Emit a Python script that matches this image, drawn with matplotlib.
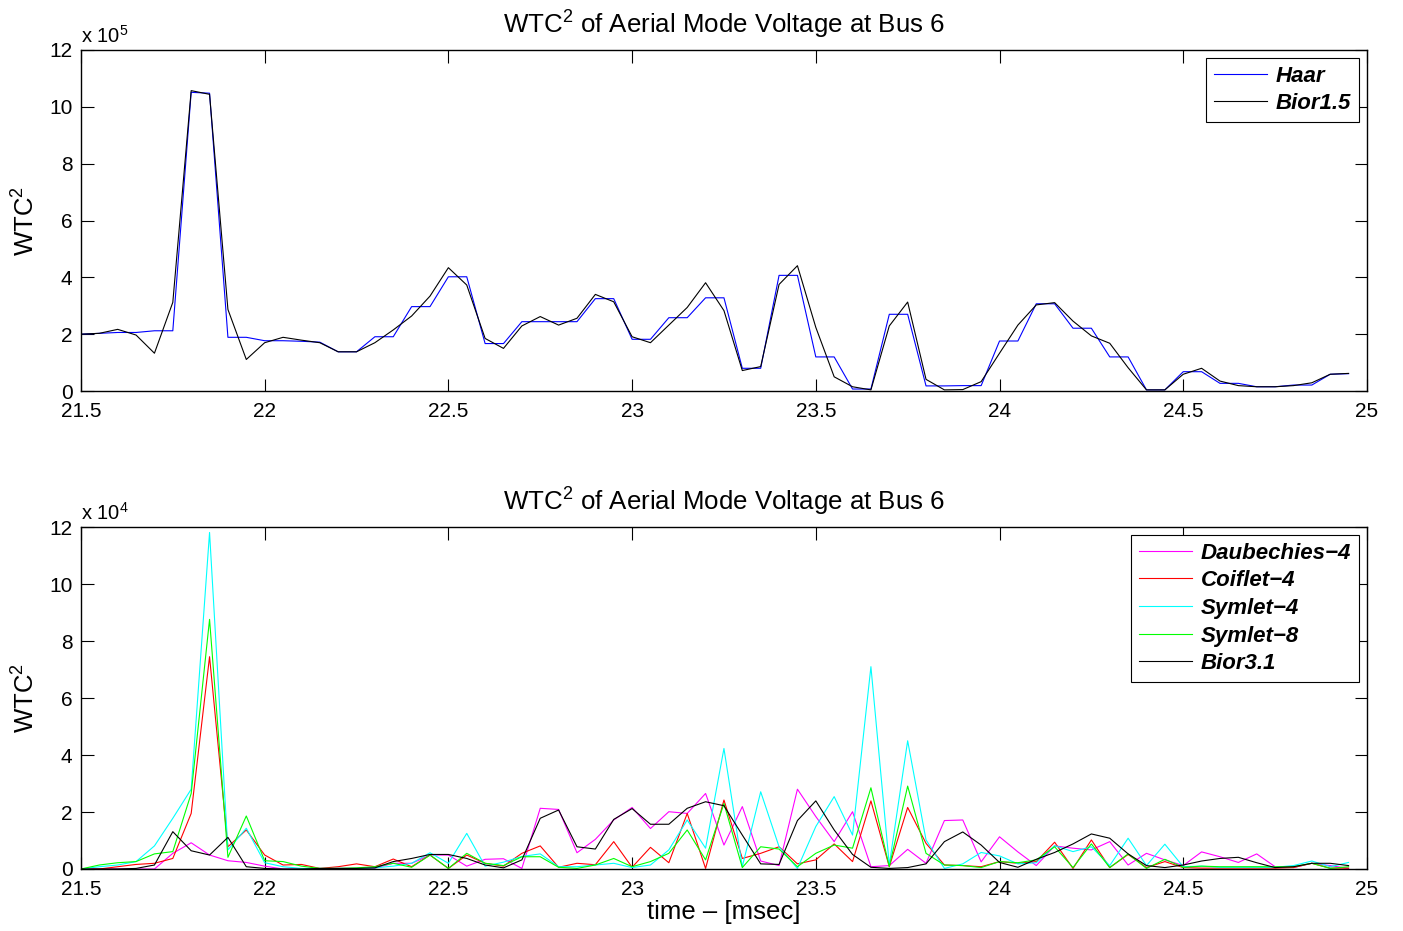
import numpy as np
import matplotlib
matplotlib.use("Agg")
import matplotlib.pyplot as plt

plt.rcParams.update({
    "font.family": ["Liberation Sans", "DejaVu Sans"],
    "mathtext.default": "regular",
    "font.size": 15,
    "axes.linewidth": 1.0,
})

# sample grid (msec)
T_START = 21.5
DT = 0.05
N = 70
t = T_START + DT * np.arange(N)

# top panel, WTC^2 in units of 1e5
haar = [2.00, 2.03, 2.06, 2.06, 2.12, 2.12, 10.51, 10.48, 1.89, 1.89,
        1.77, 1.77, 1.75, 1.72, 1.38, 1.38, 1.91, 1.91, 2.97, 2.97,
        4.02, 4.02, 1.67, 1.67, 2.44, 2.44, 2.44, 2.44, 3.25, 3.25,
        1.82, 1.82, 2.58, 2.58, 3.28, 3.28, 0.80, 0.80, 4.07, 4.07,
        1.20, 1.20, 0.07, 0.07, 2.70, 2.70, 0.18, 0.18, 0.19, 0.19,
        1.76, 1.76, 3.07, 3.07, 2.21, 2.21, 1.20, 1.20, 0.04, 0.04,
        0.68, 0.68, 0.27, 0.27, 0.15, 0.15, 0.21, 0.21, 0.59, 0.61]
bior15 = [2.00, 2.03, 2.17, 1.97, 1.33, 3.12, 10.57, 10.44, 2.87, 1.11,
          1.70, 1.89, 1.79, 1.70, 1.38, 1.38, 1.70, 2.15, 2.64, 3.34,
          4.34, 3.73, 1.85, 1.50, 2.29, 2.62, 2.32, 2.56, 3.40, 3.14,
          1.91, 1.70, 2.32, 2.94, 3.81, 2.83, 0.72, 0.86, 3.75, 4.41,
          2.24, 0.50, 0.15, 0.04, 2.29, 3.13, 0.41, 0.04, 0.05, 0.33,
          1.33, 2.32, 3.03, 3.11, 2.46, 1.94, 1.68, 0.82, 0.04, 0.04,
          0.59, 0.80, 0.35, 0.19, 0.15, 0.15, 0.19, 0.29, 0.59, 0.62]

# bottom panel, WTC^2 in units of 1e4
db4 = [0.00, 0.00, 0.00, 0.00, 0.00, 0.55, 0.92, 0.49, 0.29, 0.23,
       0.10, 0.00, 0.00, 0.00, 0.02, 0.02, 0.03, 0.20, 0.20, 0.49,
       0.49, 0.10, 0.34, 0.36, 0.02, 2.13, 2.09, 0.57, 1.04, 1.72,
       2.16, 1.42, 2.01, 1.95, 2.65, 0.84, 2.19, 0.28, 0.12, 2.80,
       1.84, 0.96, 2.01, 0.08, 0.12, 0.69, 0.20, 1.70, 1.72, 0.25,
       1.13, 0.60, 0.12, 0.81, 0.73, 0.67, 0.96, 0.14, 0.55, 0.32,
       0.12, 0.60, 0.43, 0.23, 0.53, 0.08, 0.05, 0.20, 0.12, 0.02]
coif4 = [0.00, 0.00, 0.08, 0.16, 0.20, 0.37, 1.95, 7.45, 0.78, 1.37,
         0.49, 0.14, 0.16, 0.02, 0.08, 0.18, 0.08, 0.35, 0.08, 0.49,
         0.02, 0.49, 0.20, 0.10, 0.55, 0.81, 0.06, 0.20, 0.15, 0.96,
         0.06, 0.76, 0.22, 1.95, 0.02, 2.42, 0.37, 0.55, 0.78, 0.18,
         0.32, 0.88, 0.26, 2.39, 0.08, 2.16, 0.90, 0.14, 0.12, 0.08,
         0.26, 0.20, 0.26, 0.94, 0.02, 1.02, 0.05, 0.51, 0.05, 0.26,
         0.05, 0.03, 0.03, 0.03, 0.03, 0.03, 0.05, 0.20, 0.03, 0.03]
sym4 = [0.00, 0.08, 0.14, 0.26, 0.81, 1.78, 2.80, 11.81, 0.67, 1.43,
        0.22, 0.08, 0.02, 0.02, 0.02, 0.02, 0.04, 0.10, 0.20, 0.57,
        0.20, 1.25, 0.10, 0.24, 0.44, 0.53, 0.08, 0.08, 0.14, 0.20,
        0.05, 0.14, 0.67, 1.72, 0.73, 4.23, 0.08, 2.71, 0.78, 0.02,
        1.49, 2.54, 1.19, 7.10, 0.14, 4.50, 1.02, 0.02, 0.18, 0.58,
        0.46, 0.18, 0.22, 0.82, 0.61, 0.78, 0.12, 1.08, 0.12, 0.87,
        0.08, 0.10, 0.06, 0.06, 0.06, 0.06, 0.12, 0.28, 0.08, 0.23]
sym8 = [0.00, 0.14, 0.22, 0.26, 0.53, 0.61, 2.65, 8.76, 0.41, 1.86,
        0.29, 0.26, 0.10, 0.02, 0.02, 0.04, 0.08, 0.20, 0.06, 0.49,
        0.02, 0.55, 0.20, 0.12, 0.43, 0.43, 0.06, 0.02, 0.14, 0.37,
        0.08, 0.26, 0.55, 1.37, 0.32, 2.30, 0.05, 0.78, 0.70, 0.08,
        0.55, 0.84, 0.73, 2.85, 0.08, 2.91, 0.55, 0.14, 0.12, 0.05,
        0.26, 0.22, 0.32, 0.78, 0.05, 0.88, 0.05, 0.53, 0.02, 0.34,
        0.06, 0.10, 0.08, 0.08, 0.08, 0.08, 0.08, 0.20, 0.02, 0.08]
bior31 = [0.00, 0.00, 0.00, 0.02, 0.14, 1.31, 0.64, 0.49, 1.11, 0.08,
          0.02, 0.00, 0.00, 0.02, 0.02, 0.02, 0.04, 0.26, 0.37, 0.51,
          0.51, 0.37, 0.14, 0.04, 0.32, 1.78, 2.07, 0.78, 0.70, 1.74,
          2.12, 1.57, 1.57, 2.13, 2.36, 2.22, 1.19, 0.18, 0.16, 1.70,
          2.39, 1.37, 0.51, 0.06, 0.02, 0.05, 0.18, 0.96, 1.30, 0.84,
          0.23, 0.06, 0.34, 0.58, 0.88, 1.23, 1.08, 0.53, 0.12, 0.05,
          0.14, 0.28, 0.37, 0.41, 0.22, 0.05, 0.08, 0.20, 0.20, 0.12]

xticks = [21.5, 22, 22.5, 23, 23.5, 24, 24.5, 25]
xticklabels = ["21.5", "22", "22.5", "23", "23.5", "24", "24.5", "25"]
yticks = [0, 2, 4, 6, 8, 10, 12]

TITLE = "WTC$^2$ of Aerial Mode Voltage at Bus 6"


def style_axes(ax, exponent):
    ax.set_xlim(21.5, 25)
    ax.set_ylim(0, 12)
    ax.set_xticks(xticks)
    ax.set_xticklabels(xticklabels)
    ax.set_yticks(yticks)
    ax.tick_params(direction="in", length=9, width=0.8, top=True, right=True,
                   labelsize=15)
    ax.tick_params(axis="x", pad=8)
    ax.tick_params(axis="y", pad=6)
    ax.set_ylabel("WTC$^2$", fontsize=18.5, labelpad=7)
    ax.set_title(TITLE, fontsize=18.6, pad=12)
    ax.text(0.0, 1.01, "x 10$^{%d}$" % exponent, transform=ax.transAxes,
            fontsize=14.5, ha="left", va="bottom")


fig = plt.figure(figsize=(14.03, 9.31), dpi=100)
ax1 = fig.add_axes([0.0577, 0.580, 0.9166, 0.3663])
ax2 = fig.add_axes([0.0577, 0.0666, 0.9166, 0.3673])

lw = 0.8
ax1.plot(t, haar, color="#0000ff", lw=lw, label="Haar")
ax1.plot(t, bior15, color="black", lw=lw, label="Bior1.5")
style_axes(ax1, 5)

ax2.plot(t, db4, color="#ff00ff", lw=lw, label="Daubechies\u22124")
ax2.plot(t, coif4, color="#ff0000", lw=lw, label="Coiflet\u22124")
ax2.plot(t, sym4, color="#00ffff", lw=lw, label="Symlet\u22124")
ax2.plot(t, sym8, color="#00ff00", lw=lw, label="Symlet\u22128")
ax2.plot(t, bior31, color="black", lw=lw, label="Bior3.1")
style_axes(ax2, 4)
ax2.set_xlabel("time \u2013 [msec]", fontsize=18.5, labelpad=1)

for ax in (ax1, ax2):
    leg = ax.legend(loc="upper right", fancybox=False, framealpha=1,
                    edgecolor="black", handlelength=2.4, borderaxespad=0.35,
                    labelspacing=0.3, handletextpad=0.4, borderpad=0.35,
                    prop={"weight": "bold", "style": "italic", "size": 16})
    leg.get_frame().set_linewidth(0.8)

fig.savefig("out.png", dpi=100, facecolor="white")
